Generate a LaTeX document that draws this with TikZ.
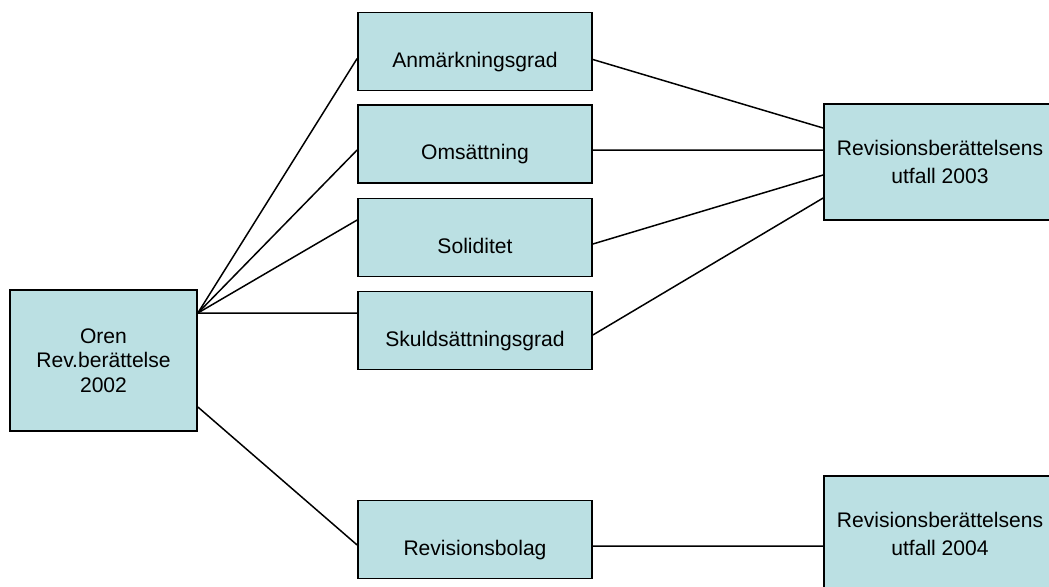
\documentclass[tikz,border=0pt]{standalone}
\usepackage{fontspec}
\setmainfont{Liberation Sans}
\usepackage{tikz}
\definecolor{paleteal}{RGB}{187, 224, 227}

\begin{document}
\begin{tikzpicture}[x=0.02cm, y=-0.02cm,
    box/.style     = {draw=black, fill=paleteal, line width=1pt, align=center,
                      font=\fontsize{12}{14}\selectfont},
    factorbox/.style = {box, minimum width=4.68cm, minimum height=1.56cm,
                      text height=0.72cm, text depth=0.1cm},
    outcomebox/.style = {box, minimum width=4.64cm, minimum height=2.32cm,
                      font=\fontsize{12}{16}\selectfont},
    link/.style    = {draw=black, line width=0.85pt}]
            \useasboundingbox (0,0) rectangle (1049,586);
            \clip             (0,0) rectangle (1049,586);
            \node[box, minimum width=3.74cm, minimum height=2.82cm] (oren)  at (103.5, 360.5) {Oren\\Rev.berättelse\\2002};
            \node[factorbox]                                         (anm)   at (475.0,  51.5) {Anmärkningsgrad};
            \node[factorbox]                                         (oms)   at (475.0, 144.0) {Omsättning};
            \node[factorbox]                                         (sol)   at (475.0, 237.5) {Soliditet};
            \node[factorbox]                                         (skuld) at (475.0, 330.5) {Skuldsättningsgrad};
            \node[factorbox]                                         (bolag) at (475.0, 539.5) {Revisionsbolag};
            \node[outcomebox]                                        (utf03) at (940.0, 162.0) {Revisionsberättelsens\\utfall 2003};
            \node[outcomebox]                                        (utf04) at (940.0, 534.0) {Revisionsberättelsens\\utfall 2004};
            \draw[link] ([yshift= 0.95cm]oren.east)  -- ([yshift=-0.14cm]anm.west);
            \draw[link] ([yshift= 0.95cm]oren.east)  -- ([yshift=-0.12cm]oms.west);
            \draw[link] ([yshift= 0.95cm]oren.east)  -- ([yshift= 0.35cm]sol.west);
            \draw[link] ([yshift= 0.95cm]oren.east)  -- ([yshift= 0.35cm]skuld.west);
            \draw[link] ([yshift=-0.93cm]oren.east)  -- ([yshift=-0.11cm]bolag.west);
            \draw[link] ([yshift=-0.16cm]anm.east)   -- ([yshift= 0.68cm]utf03.west);
            \draw[link] ([yshift=-0.12cm]oms.east)   -- ([yshift= 0.24cm]utf03.west);
            \draw[link] ([yshift=-0.13cm]sol.east)   -- ([yshift=-0.26cm]utf03.west);
            \draw[link] ([yshift=-0.09cm]skuld.east) -- ([yshift=-0.72cm]utf03.west);
            \draw[link] ([yshift=-0.13cm]bolag.east) -- ([yshift=-0.24cm]utf04.west);
\end{tikzpicture}
\end{document}
